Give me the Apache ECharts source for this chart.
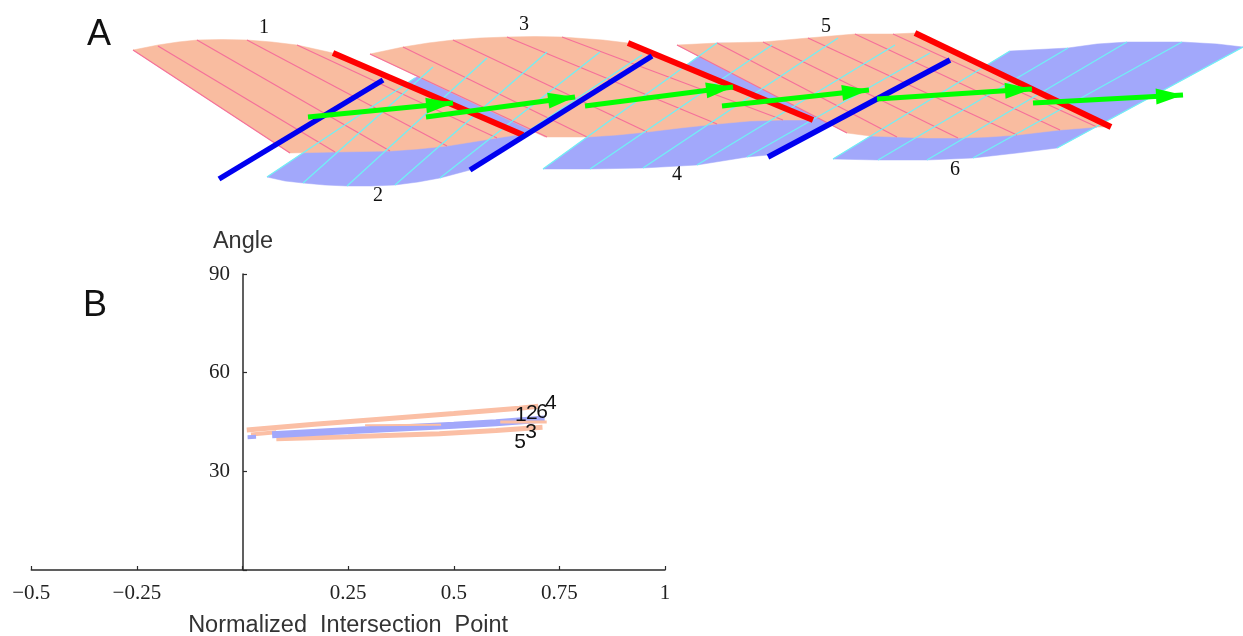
<!DOCTYPE html>
<html>
<head>
<meta charset="utf-8">
<style>html,body{margin:0;padding:0;background:#fff}#c{width:1243px;height:636px}</style>
<script src="https://cdn.jsdelivr.net/npm/echarts@6/dist/echarts.min.js"></script>
</head>
<body>
<div id="c"></div>
<script>
// Panel A: the six sheets in schematic units
const sheet1 = [[133,50],[158,45],[178,42],[197,40],[222,39.5],[247,40],[272,42],[297,45],[333,53],[523,134],[497,138],[472,142],[447,146],[418,149],[390,151],[335,152],[290,153]];
const sheet3 = [[370,54],[403,47],[428,43],[453,40],[480,38],[507,37],[535,36.5],[562,37],[603,40],[628,43],[813,120],[783,120],[750,121],[717,124],[680,128],[647,132],[617,135],[587,137],[545,137]];
const sheet5 = [[677,45],[717,43],[763,42],[808,38],[855,34],[893,34],[915,33],[1111,127],[1097,127],[1060,130],[1017,135],[988,137],[958,138],[927,138],[897,137],[870,136],[847,133]];
const sheet2 = [[267,177],[285,181],[303,183],[325,185],[347,186],[371,186],[395,185],[418,182],[440,178],[470,170],[652,56],[600,50],[547,52],[487,58],[433,67],[415,78]];
const sheet4 = [[543,169],[590,169],[643,168],[697,165],[722,161],[747,157],[768,155],[950,60],[930,50],[895,45],[838,38],[772,45],[717,43]];
const sheet6 = [[833,159],[878,160],[927,160],[973,158],[1017,153],[1057,148],[1243,47],[1217,44],[1182,42],[1127,42],[1097,44],[1068,48],[1010,51]];
const pinkHatch = [
  [158,46,335,152],[197,40,390,151],[247,40,447,146],[297,45,497,138],[133,50,290,153],
  [370,54,547,137],[403,47,587,137],[453,40,647,132],[507,37,717,124],[562,37,783,120],
  [677,45,847,133],[717,43,897,137],[763,42,958,138],[808,38,1017,135],[855,34,1060,130],[893,34,1097,127]
];
const cyanHatch = [
  [267,177,415,78],[303,183,433,67],[347,186,487,58],[395,185,547,52],[440,178,600,52],[470,170,642,55],
  [543,169,717,43],[590,169,772,45],[643,168,838,38],[697,165,895,45],[747,157,930,53],
  [833,159,1010,51],[878,160,1068,48],[927,160,1127,42],[973,158,1182,42],[1057,148,1243,47]
];
const redBars = [[333,53,523,135],[628,43,813,120],[915,33,1111,127]];
const blueBars = [[219,179,383,80],[470,170,652,56],[768,157,950,60]];
const greenArrows = [[308,117,453,103],[426,117,575,97],[585,106,733,87],[722,106,869,90],[877,99,1032,89],[1033,103,1183,95]];
const sheetLabelsText = ['1','2','3','4','5','6'];
const sheetLabelsAt = [[264,28],[378,196],[524,25],[677,175],[826,27],[955,170]];
const panelLetters = [['A',99,35],['B',95,306]];

// Panel B: intersection bands (normalized point, angle)
const orangeTop = [[0.01,42.6],[0.17,44.3],[0.34,46],[0.5,47.6],[0.655,49.2],[0.7,49.8]];
const orangeLower = [[0.08,39.9],[0.25,40.5],[0.466,41.4],[0.6,42.4],[0.71,43.4]];
const orangeShort = [[0.02,41.2],[0.08,41.9]];
const blueBandShort = [[0.012,40.4],[0.032,40.5]];
const blueBand = [[0.07,41.1],[0.2,42],[0.35,43],[0.5,44],[0.6,44.8],[0.715,45.9]];
const orangeInnerA = [[0.29,44],[0.47,44.2]];
const orangeInnerB = [[0.61,45],[0.72,45]];
const bandLabelsText = ['1','2','6','4','3','5'];
const bandLabelsAt = [[0.659,47.2],[0.685,47.6],[0.709,48.1],[0.73,50.6],[0.683,41.9],[0.657,38.9]];
const xTickValues = [-0.5,-0.25,0,0.25,0.5,0.75,1];
const xTickLabels = ['\u22120.5','\u22120.25','','0.25','0.5','0.75','1'];
const yTickValues = [0,30,60,90];
const yTickLabels = ['','30','60','90'];

const serif = '"Liberation Serif",serif';
const sans = '"Liberation Sans",Arial,sans-serif';
const ink = '#2b2b2b';

function polygonSeries(outline, color, z){
  return {type:'custom',coordinateSystem:'cartesian2d',xAxisIndex:0,yAxisIndex:1,silent:true,z:z,clip:false,
    data:outline,encode:{x:0,y:1},
    renderItem:(p,api)=>p.dataIndex!==0?null:({type:'polygon',
      shape:{points:outline.map(q=>api.coord(q))},style:{fill:color,stroke:color,lineWidth:0.5}})};
}
function segmentSeries(rows,color,width,z,arrow){
  return {type:'custom',coordinateSystem:'cartesian2d',xAxisIndex:0,yAxisIndex:1,silent:true,z:z,clip:false,
    data:rows,encode:{x:[0,2],y:[1,3]},
    renderItem:(p,api)=>{
      const a=api.coord([api.value(0),api.value(1)]), b=api.coord([api.value(2),api.value(3)]);
      const line={type:'line',shape:{x1:a[0],y1:a[1],x2:b[0],y2:b[1]},style:{stroke:color,lineWidth:width,fill:null}};
      if(!arrow) return line;
      const dx=b[0]-a[0],dy=b[1]-a[1],l=Math.hypot(dx,dy),ux=dx/l,uy=dy/l,bx=b[0]-ux*27,by=b[1]-uy*27;
      return {type:'group',children:[line,{type:'polygon',
        shape:{points:[b,[bx-uy*8,by+ux*8],[bx+uy*8,by-ux*8]]},style:{fill:color}}]};
    }};
}
function bandSeries(data,color,width,z){
  return {type:'line',xAxisIndex:1,yAxisIndex:0,data:data,showSymbol:false,silent:true,z:z,
    lineStyle:{color:color,width:width,cap:'butt'}};
}
function labelSeries(pts,texts,xi,yi,font,size){
  return {type:'scatter',xAxisIndex:xi,yAxisIndex:yi,symbolSize:0,silent:true,z:20,itemStyle:{opacity:1},
    data:pts.map((q,i)=>({value:q,label:{show:true,position:'inside',formatter:texts[i],
      color:'#111',fontFamily:font,fontSize:size}}))};
}

const option={
  animation:false,backgroundColor:'#fff',tooltip:{show:false},legend:{show:false},
  grid:[
    {left:0,top:0,width:1243,height:636,outerBoundsMode:'none'},
    {left:31.3,width:633.7,top:274,height:296,outerBoundsMode:'none'}
  ],
  xAxis:[
    {gridIndex:0,type:'value',min:0,max:1243,show:false},
    {gridIndex:1,type:'value',min:-0.5,max:1,interval:0.25,
      name:'Normalized  Intersection  Point',nameLocation:'middle',nameGap:44,
      nameTextStyle:{fontFamily:sans,fontSize:23.5,color:'#333'},
      axisLine:{onZero:true,lineStyle:{color:ink,width:1.5}},
      axisTick:{inside:true,length:4,lineStyle:{color:ink,width:1.2},customValues:xTickValues},
      axisLabel:{margin:13,fontFamily:serif,fontSize:21,color:'#222',hideOverlap:false,
        customValues:xTickValues,
        formatter:v=>xTickLabels[xTickValues.indexOf(v)]},
      splitLine:{show:false}}
  ],
  yAxis:[
    {gridIndex:1,type:'value',min:0,max:90,interval:30,position:'left',offset:-211.7,
      name:'Angle',nameLocation:'end',nameGap:20,
      nameTextStyle:{fontFamily:sans,fontSize:23.5,color:'#333',align:'center'},
      axisLine:{onZero:false,lineStyle:{color:ink,width:1.5}},
      axisTick:{inside:true,length:4,lineStyle:{color:ink,width:1.2},customValues:yTickValues},
      axisLabel:{margin:13,fontFamily:serif,fontSize:21,color:'#222',
        customValues:yTickValues,
        formatter:v=>yTickLabels[yTickValues.indexOf(v)]},
      splitLine:{show:false}},
    {gridIndex:0,type:'value',min:0,max:636,inverse:true,show:false}
  ],
  series:[
    polygonSeries(sheet2,'#A2A8FB',2),
    polygonSeries(sheet4,'#A2A8FB',2),
    polygonSeries(sheet6,'#A2A8FB',2),
    polygonSeries(sheet1,'#F9BCA0',3),
    polygonSeries(sheet3,'#F9BCA0',3),
    polygonSeries(sheet5,'#F9BCA0',3),
    segmentSeries(pinkHatch,'#F5709A',1.2,4),
    segmentSeries(cyanHatch,'#70F0F5',1.3,5),
    segmentSeries(redBars,'#FF0000',6,6),
    segmentSeries(blueBars,'#0000F0',5.5,7),
    segmentSeries(greenArrows,'#00FF00',5,8,true),
    labelSeries(sheetLabelsAt,sheetLabelsText,0,1,serif,20),
    labelSeries(panelLetters.map(l=>[l[1],l[2]]),panelLetters.map(l=>l[0]),0,1,sans,36),
    bandSeries(orangeTop,'#FBBFA5',5,4),
    bandSeries(orangeShort,'#FBBFA5',4,4),
    bandSeries(orangeLower,'#FBBFA5',5,4),
    bandSeries(blueBandShort,'#A2A8FB',4,5),
    bandSeries(blueBand,'#A2A8FB',7,5),
    bandSeries(orangeInnerA,'#FBBFA5',2,6),
    bandSeries(orangeInnerB,'#FBBFA5',3,6),
    labelSeries(bandLabelsAt,bandLabelsText,1,0,sans,21)
  ]
};
echarts.init(document.getElementById('c'),null,{renderer:'canvas'}).setOption(option);
</script>
</body>
</html>
